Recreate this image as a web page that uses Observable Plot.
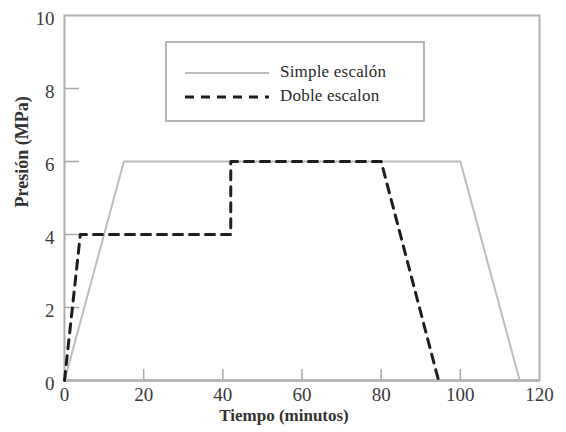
<!DOCTYPE html>
<html>
<head>
<meta charset="utf-8">
<script src="https://cdn.jsdelivr.net/npm/d3@7"></script>
<script src="https://cdn.jsdelivr.net/npm/@observablehq/plot@0.6"></script>
<style>
  html, body { margin: 0; padding: 0; background: #fff; }
  #wrap { position: relative; width: 566px; height: 432px; font-family: "Liberation Serif", "DejaVu Serif", serif; }
  #legend { position: absolute; left: 165px; top: 41px; width: 256px; height: 77px; border: 2px solid #b5b5b5; background: #fff; box-sizing: content-box; }
  .lg-row { position: absolute; left: 0; height: 20px; width: 100%; }
  .lg-line { position: absolute; left: 18px; width: 84px; top: 10px; }
  .lg-text { position: absolute; left: 113px; top: 0; font-family: "Liberation Serif", serif; font-size: 17px; line-height: 20px; color: #2a2a2a; letter-spacing: 0.2px; }
</style>
</head>
<body>
<div id="wrap"></div>
<script>
// Data
const simpleT = [0, 15, 100, 115];
const simpleP = [0, 6, 6, 0];
const dobleT = [0, 4, 42, 42, 80, 94.5];
const dobleP = [0, 4, 4, 6, 6, 0];
const xTicks = [0, 20, 40, 60, 80, 100, 120];
const yTicks = [0, 2, 4, 6, 8, 10];
const xInner = [20, 40, 60, 80, 100];
const yInner = [2, 4, 6, 8];
const seriesNames = ["Simple escalón", "Doble escalon"];
const xTitle = "Tiempo (minutos)";
const yTitle = "Presión (MPa)";

const simple = simpleT.map((t, i) => ({t, p: simpleP[i]}));
const doble = dobleT.map((t, i) => ({t, p: dobleP[i]}));

const font = "'Liberation Serif', 'DejaVu Serif', serif";
const dashStroke = "#1e1e1e";
const simpleStroke = "#bcbcbc";

const W = 566, H = 432, mL = 64, mR = 27, mT = 15, mB = 52;
const plotW = W - mL - mR, plotH = H - mT - mB;

const chart = Plot.plot({
  width: W,
  height: H,
  marginLeft: mL,
  marginRight: mR,
  marginTop: mT,
  marginBottom: mB,
  style: {fontFamily: font, background: "#fff"},
  x: {domain: [0, 120]},
  y: {domain: [0, 10]},
  marks: [
    Plot.frame({stroke: "#b0b0b0", strokeWidth: 2}),
    Plot.ruleY([0], {stroke: "#b8b8b8", strokeWidth: 3}),
    Plot.ruleX(xInner, {insetTop: plotH - 11, stroke: "#a8a8a8", strokeWidth: 1.5}),
    Plot.ruleY(yInner, {insetRight: plotW - 15, stroke: "#a8a8a8", strokeWidth: 1.5}),
    Plot.axisX({ticks: xTicks, tickSize: 0, tickPadding: 7, fontSize: 19, fontFamily: font, fill: "#3a3a3a", label: null, tickFormat: d => String(d)}),
    Plot.axisY({ticks: yTicks, tickSize: 0, tickPadding: 10, dy: 3, fontSize: 19, fontFamily: font, fill: "#3a3a3a", label: null, tickFormat: d => String(d)}),
    Plot.line(simple, {x: "t", y: "p", stroke: simpleStroke, strokeWidth: 2}),
    Plot.line(doble, {x: "t", y: "p", stroke: dashStroke, strokeWidth: 3, strokeDasharray: "9,7"}),
    Plot.text([xTitle], {frameAnchor: "bottom", dy: 40, dx: -18, fontSize: 17, fontWeight: "bold", fill: "#333", fontFamily: font}),
    Plot.text([yTitle], {frameAnchor: "left", dx: -42, dy: 9.5, rotate: -90, fontSize: 18, fontWeight: "bold", fill: "#333", fontFamily: font})
  ]
});

const wrap = document.getElementById("wrap");
wrap.appendChild(chart);

const legend = document.createElement("div");
legend.id = "legend";
const rows = [
  {name: seriesNames[0], top: 19},
  {name: seriesNames[1], top: 43}
];
rows.forEach((r, i) => {
  const row = document.createElement("div");
  row.className = "lg-row";
  row.style.top = r.top + "px";
  const ln = document.createElement("div");
  ln.className = "lg-line";
  if (i === 0) {
    ln.style.borderTop = `2px solid ${simpleStroke}`;
  } else {
    ln.innerHTML = `<svg width="84" height="4" style="position:absolute;top:-1px;left:0"><line x1="0" y1="2" x2="84" y2="2" stroke="${dashStroke}" stroke-width="3" stroke-dasharray="9,7"/></svg>`;
  }
  const tx = document.createElement("div");
  tx.className = "lg-text";
  tx.textContent = r.name;
  row.appendChild(ln);
  row.appendChild(tx);
  legend.appendChild(row);
});
wrap.appendChild(legend);
</script>
</body>
</html>
